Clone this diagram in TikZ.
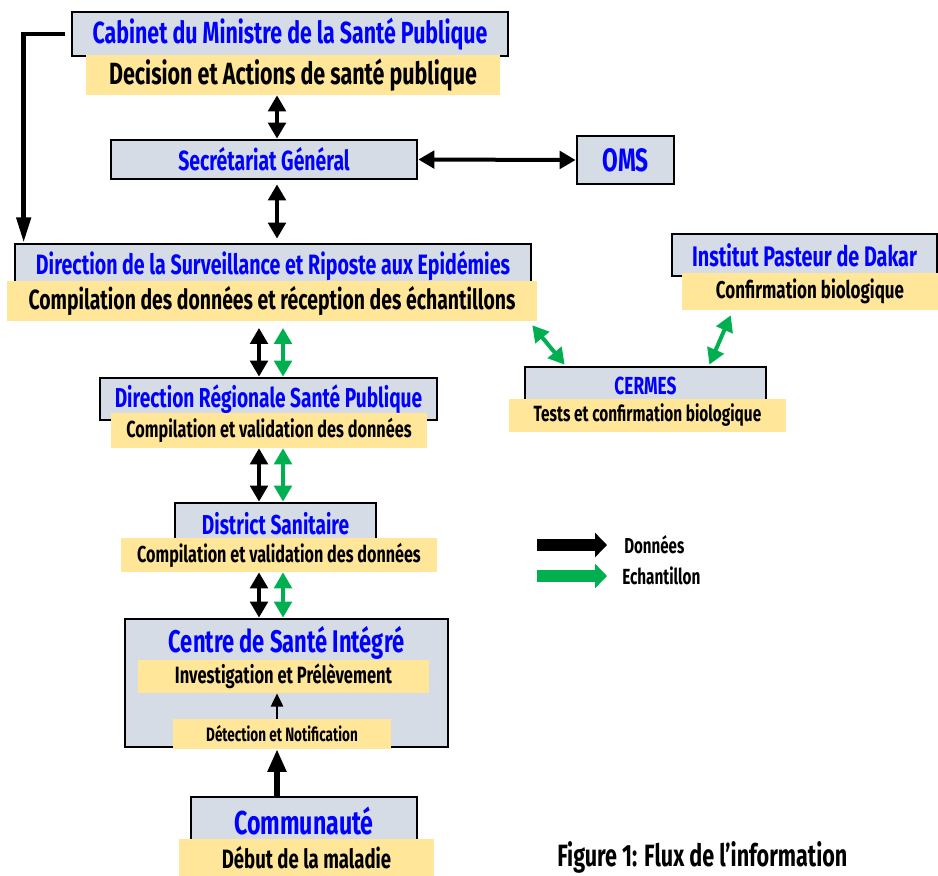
\documentclass[tikz,border=0pt]{standalone}
\usepackage{fontspec}
\setmainfont{Fira Sans}[FakeStretch=0.7]
\usepackage{tikz}
\usetikzlibrary{arrows.meta,calc,positioning}
\usepackage{xcolor}
\definecolor{boxgray}{HTML}{D6DCE5}
\definecolor{boxyellow}{HTML}{FFE699}
\definecolor{samplegreen}{HTML}{00B050}
\definecolor{titleblue}{HTML}{0000FF}
\newcommand{\fsz}[1]{\fontsize{#1}{#1}\selectfont\bfseries}

\begin{document}
\begin{tikzpicture}[
  x=0.75pt,y=-0.75pt,
  wh/.style 2 args={minimum width=#1*0.75pt,minimum height=#2*0.75pt},
  unit/.style={rectangle,draw,line width=2pt,fill=boxgray,text=titleblue,inner sep=0pt},
  task/.style={rectangle,fill=boxyellow,text=black,inner sep=0pt},
  data/.style={{Triangle[width=13pt,length=12pt]}-{Triangle[width=13pt,length=12pt]},line width=3pt},
  sample/.style={data,samplegreen},
  legarrow/.style={-{Triangle[width=18pt,length=9pt]},line width=9pt}
]
\useasboundingbox (0,0) rectangle (938,875);
% columns of the vertical arrows
\coordinate (mcol) at (277,0);
\coordinate (dcol) at (259,0);
\coordinate (gcol) at (283,0);
% Ministry level
\node[unit,wh={436}{44},font=\fsz{22.9}] (cab) at (290,34) {Cabinet du Ministre de la Santé Publique};
\node[task,wh={414}{40},font=\fsz{23}] (cabtxt) at (293,75) {Decision et Actions de santé publique};
\node[unit,wh={306}{39},font=\fsz{20.8}] (sg) at (264,159.5) {Secrétariat Général};
\node[unit,wh={97}{48},font=\fsz{24.3}] (oms) at (625.5,160) {OMS};
% Surveillance direction
\node[unit,wh={516}{44},font=\fsz{21}] (dse) at (273,266) {Direction de la Surveillance et Riposte aux Epidémies};
\node[task,wh={530}{40},font=\fsz{20.8}] (dsetxt) at (272,301) {Compilation des données et réception des échantillons};
% Laboratories (right)
\node[unit,wh={265}{42},font=\fsz{21.2}] (ipd) at (804.5,255) {Institut Pasteur de Dakar};
\node[task,wh={256}{37},font=\fsz{18.2}] (ipdtxt) at (810,291.5) {Confirmation biologique};
\node[unit,wh={241}{38},font=\fsz{18.5}] (cermes) at (645.5,386) {CERMES};
\node[task,wh={277}{33},font=\fsz{16.5}] (cermestxt) at (647.5,415.5) {Tests et confirmation biologique};
% Region and district
\node[unit,wh={337}{42},font=\fsz{20.5}] (drsp) at (268.5,399) {Direction Régionale Santé Publique};
\node[task,wh={316}{35},font=\fsz{17.4}] (drsptxt) at (269,430.5) {Compilation et validation des données};
\node[unit,wh={201}{42},font=\fsz{20.5}] (ds) at (275.5,524) {District Sanitaire};
\node[task,wh={316}{34},font=\fsz{17.3}] (dstxt) at (279,555) {Compilation et validation des données};
% Health centre
\node[unit,wh={323}{128}] (csi) at (286.5,683) {};
\node[text=titleblue,inner sep=0pt,font=\fsz{23.5}] (csititle) at (286.5,643) {Centre de Santé Intégré};
\node[task,wh={291}{33},font=\fsz{17.7}] (csitxt) at (283.5,676.5) {Investigation et Prélèvement};
\node[task,wh={218}{30},font=\fsz{14.5}] (detect) at (282,734) {Détection et Notification};
% Community
\node[unit,wh={226}{48},font=\fsz{24.8}] (com) at (304,821) {Communauté};
\node[task,wh={255}{37},font=\fsz{19.9}] (comtxt) at (306.5,857.5) {Début de la maladie};

% data flow (black)
\draw[data] (cabtxt.south -| mcol) -- (sg.north -| mcol);
\draw[data,shorten <=3pt,shorten >=3pt] (sg.south -| mcol) -- (dse.north -| mcol);
\draw[data] (sg.east) -- (oms.west);
\draw[line width=3.5pt,-{Triangle[width=10.5pt,length=19pt]}]
  ($(cab.west)+(-6,0)$) -| ($(dse.north west)+(10,0)$);
\draw[data,shorten <=5pt] (dsetxt.south -| dcol) -- (drsp.north -| dcol);
\draw[data] (drsptxt.south -| dcol) -- (ds.north -| dcol);
\draw[data] (dstxt.south -| dcol) -- (csi.north -| dcol);
% samples (green)
\draw[sample,shorten <=5pt] (dsetxt.south -| gcol) -- (drsp.north -| gcol);
\draw[sample] (drsptxt.south -| gcol) -- (ds.north -| gcol);
\draw[sample] (dstxt.south -| gcol) -- (csi.north -| gcol);
\draw[sample] ($(dsetxt.south east)+(-5,4)$) -- ($(cermes.north west)+(41,-1)$);
\draw[sample] ($(ipdtxt.south west)+(49,5)$) -- ($(cermes.north east)+(-58,-1)$);
% alert from the community
\draw[-{Triangle[width=9pt,length=10pt]},line width=2pt] (detect.north -| mcol) -- (csitxt.south -| mcol);
\draw[-{Triangle[width=13.5pt,length=17pt]},line width=4pt] (com.north -| mcol) -- (detect.south -| mcol);

% legend
\node[anchor=west,inner sep=0pt,font=\fsz{16.2}] (ndata) at (624,545) {Données};
\node[anchor=west,inner sep=0pt,font=\fsz{16.4}] (nsample) at (622,576) {Echantillon};
\coordinate (ldata) at (537,545);
\coordinate (lsample) at (537,576);
\draw[legarrow,shorten >=12.75pt] (ldata) -- (ndata.west);
\draw[legarrow,samplegreen,shorten >=11.25pt] (lsample) -- (nsample.west);
\node[anchor=base west,inner sep=0pt,font=\fsz{23.1}] (caption) at (557,866) {Figure 1: Flux de l’information};
\end{tikzpicture}
\end{document}
